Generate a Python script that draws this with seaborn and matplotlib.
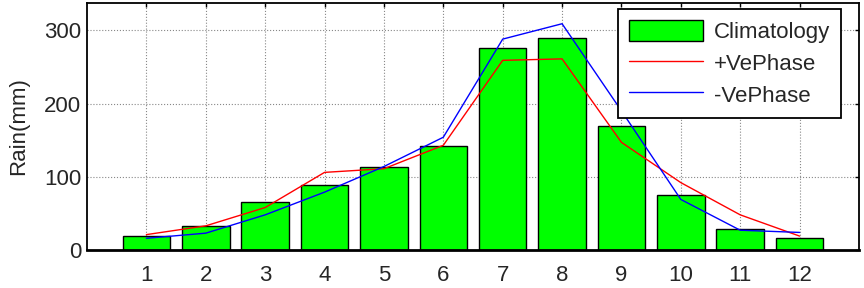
import matplotlib
matplotlib.use("Agg")
import matplotlib.pyplot as plt
import seaborn as sns
import numpy as np

months = [1, 2, 3, 4, 5, 6, 7, 8, 9, 10, 11, 12]
climatology = [19, 33, 65, 89, 113, 142, 276, 289, 169, 75, 28, 16]
pos_phase = [21, 33, 58, 106, 111, 143, 259, 261, 147, 92, 48, 19]
neg_phase = [16, 23, 48, 79, 114, 154, 288, 309, 190, 69, 27, 24]
yticks = [0, 100, 200, 300]

sns.set_style("white")
plt.rcParams["font.family"] = ["Liberation Sans", "DejaVu Sans"]

fig = plt.figure(figsize=(8.64, 2.88), dpi=100)
ax = fig.add_axes([87 / 864, 38 / 288, 772 / 864, 247.5 / 288])

sns.barplot(x=months, y=climatology, native_scale=True, width=0.8,
            color="#00ff00", saturation=1, edgecolor="black", linewidth=1,
            ax=ax, label="Climatology", zorder=2)
sns.lineplot(x=months, y=pos_phase, color="#ff0000", linewidth=1,
             ax=ax, label="+VePhase", zorder=3)
sns.lineplot(x=months, y=neg_phase, color="#0000ff", linewidth=1,
             ax=ax, label="-VePhase", zorder=3)

ax.set_xlim(0, 13)
ax.set_ylim(0, 338)
ax.set_xticks(months)
ax.set_xticklabels([str(m) for m in months])
ax.set_yticks(yticks)
ax.set_yticklabels([str(v) for v in yticks])
ax.set_xlabel("")
ax.set_ylabel("Rain(mm)", fontsize=16)
ax.yaxis.set_label_coords(-0.075, 0.5)

ax.grid(True, linestyle=":", color="#888888", linewidth=0.8)
ax.set_axisbelow(True)
for s in ax.spines.values():
    s.set_visible(True)
    s.set_color("black")
    s.set_linewidth(1.3)
ax.spines["bottom"].set_linewidth(2)

ax.tick_params(axis="both", direction="in", length=3, width=1, labelsize=16,
               top=True, right=True, color="black")
ax.tick_params(axis="x", pad=11)
ax.tick_params(axis="y", pad=4)

handles, labels = ax.get_legend_handles_labels()
order = [labels.index(l) for l in ["Climatology", "+VePhase", "-VePhase"]]
leg = ax.legend([handles[i] for i in order], [labels[i] for i in order],
                loc="upper right", bbox_to_anchor=(0.9767, 0.974),
                borderaxespad=0, fontsize=16, frameon=True, fancybox=False,
                handlelength=3.3, handleheight=1.1, labelspacing=0.38,
                borderpad=0.5, handletextpad=0.5)
leg.get_frame().set_edgecolor("black")
leg.get_frame().set_linewidth(1.3)
leg.get_frame().set_alpha(1)

fig.savefig("out.png", dpi=100)
